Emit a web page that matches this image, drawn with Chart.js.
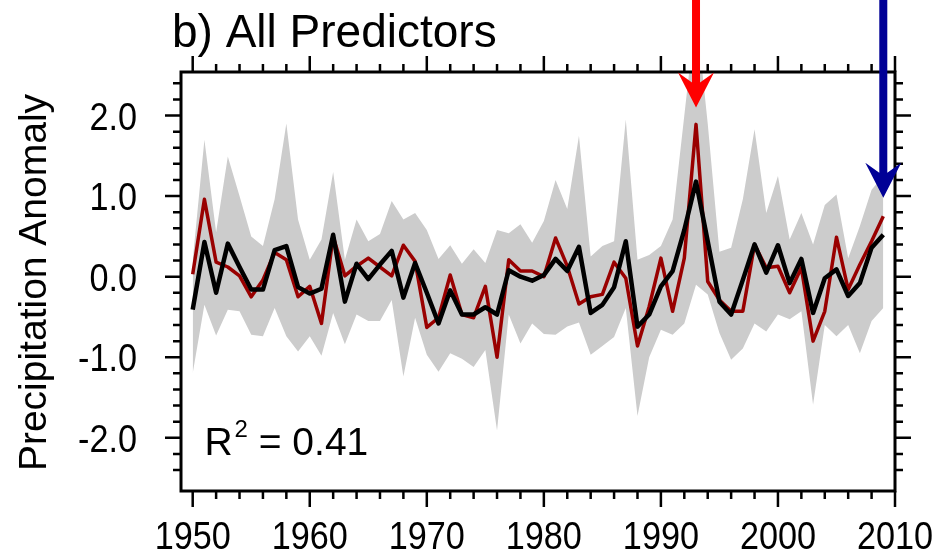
<!DOCTYPE html>
<html>
<head>
<meta charset="utf-8">
<title>b) All Predictors</title>
<script src="https://cdn.jsdelivr.net/npm/chart.js"></script>
<style>
  html, body { margin: 0; padding: 0; background: #fff; }
  #wrap { width: 940px; height: 556px; }
</style>
</head>
<body>
<div id="wrap"><canvas id="chart" width="940" height="556"></canvas></div>
<script>
// years on the x axis
const years = [
  1950, 1951, 1952, 1953, 1954, 1955, 1956, 1957, 1958, 1959,
  1960, 1961, 1962, 1963, 1964, 1965, 1966, 1967, 1968, 1969,
  1970, 1971, 1972, 1973, 1974, 1975, 1976, 1977, 1978, 1979,
  1980, 1981, 1982, 1983, 1984, 1985, 1986, 1987, 1988, 1989,
  1990, 1991, 1992, 1993, 1994, 1995, 1996, 1997, 1998, 1999,
  2000, 2001, 2002, 2003, 2004, 2005, 2006, 2007, 2008, 2009
];

// dark red line (observed)
const observed = [
  0.03, 0.96, 0.18, 0.12, 0.01, -0.25, -0.04, 0.30, 0.21, -0.25,
  -0.12, -0.58, 0.50, 0.01, 0.13, 0.23, 0.12, 0.01, 0.39, 0.19,
  -0.63, -0.51, 0.02, -0.47, -0.51, -0.12, -1.00, 0.21, 0.07, 0.07,
  0.00, 0.48, 0.13, -0.34, -0.25, -0.22, 0.18, -0.02, -0.86, -0.37,
  0.23, -0.43, 0.23, 1.89, -0.06, -0.29, -0.43, -0.43, 0.40, 0.11,
  0.13, -0.20, 0.11, -0.80, -0.43, 0.49, -0.16, 0.15, 0.44, 0.75
];

// black line (all predictors)
const predicted = [
  -0.41, 0.43, -0.20, 0.41, 0.12, -0.16, -0.16, 0.33, 0.38, -0.13,
  -0.21, -0.15, 0.52, -0.31, 0.16, -0.03, 0.15, 0.32, -0.26, 0.17,
  -0.20, -0.58, -0.17, -0.47, -0.47, -0.38, -0.47, 0.08, 0.00, -0.05,
  0.02, 0.22, 0.07, 0.37, -0.45, -0.35, -0.13, 0.44, -0.62, -0.47,
  -0.12, 0.07, 0.58, 1.18, 0.44, -0.31, -0.47, -0.04, 0.40, 0.05,
  0.39, -0.08, 0.22, -0.45, -0.02, 0.09, -0.24, -0.08, 0.36, 0.52
];

// grey spread, top edge
const upperBound = [
  0.20, 1.70, 0.55, 1.49, 1.00, 0.50, 0.38, 0.96, 1.90, 0.71,
  0.21, 0.46, 1.30, 0.21, 0.71, 0.44, 0.53, 0.94, 0.71, 0.79,
  0.58, 0.22, 0.39, 0.16, 0.34, 0.17, 0.58, 0.54, 0.65, 0.42,
  0.69, 1.20, 0.84, 1.75, 0.25, 0.38, 0.44, 1.95, 0.21, 0.27,
  0.38, 0.71, 2.00, 3.30, 1.90, 0.31, 0.36, 0.96, 1.83, 0.79,
  1.25, 0.46, 0.79, 0.40, 0.89, 1.02, 0.23, 0.63, 1.08, 1.25
];

// grey spread, bottom edge
const lowerBound = [
  -1.20, -0.35, -0.73, -0.41, -0.43, -0.72, -0.74, -0.39, -0.74, -0.93,
  -0.74, -0.98, -0.45, -0.84, -0.47, -0.55, -0.55, -0.29, -1.24, -0.51,
  -0.97, -1.18, -0.95, -1.02, -1.12, -0.91, -1.91, -0.47, -0.83, -0.58,
  -0.71, -0.72, -0.62, -0.57, -0.97, -0.86, -0.75, -0.39, -1.73, -1.00,
  -0.66, -0.72, -0.58, -0.10, -0.22, -0.70, -1.03, -0.89, -0.58, -0.68,
  -0.47, -0.53, -0.43, -1.59, -0.60, -0.74, -0.60, -0.95, -0.55, -0.39
];

// tick labels
const xTickValues = [1950, 1960, 1970, 1980, 1990, 2000, 2010];
const xTickLabels = ['1950', '1960', '1970', '1980', '1990', '2000', '2010'];
const yTickValues = [-2, -1, 0, 1, 2];
const yTickLabels = ['-2.0', '-1.0', '0.0', '1.0', '2.0'];

// arrows marking years (tip value on the y axis)
const arrowYears = [1993, 2009];
const arrowTips = [2.1, 0.98];
const arrowColors = ['#ff0000', '#000096'];

const FONT = '"Liberation Sans", Arial, Helvetica, sans-serif';

function pts(vals) {
  return years.map((yr, i) => ({ x: yr, y: vals[i] }));
}

// frame, outward ticks, labels, title and arrows
const decorPlugin = {
  id: 'decor',
  afterDraw(chart) {
    const ctx = chart.ctx;
    const area = chart.chartArea;
    const xs = chart.scales.x;
    const ys = chart.scales.y;

    ctx.save();
    ctx.strokeStyle = '#000';
    ctx.lineCap = 'butt';

    // x ticks: major every 10, minor every 2 (bottom and top, outward)
    ctx.lineWidth = 2.5;
    for (let yr = 1950; yr <= 2010; yr += 2) {
      const px = xs.getPixelForValue(yr);
      const len = yr % 10 === 0 ? 16 : 8;
      ctx.beginPath();
      ctx.moveTo(px, area.bottom); ctx.lineTo(px, area.bottom + len);
      ctx.moveTo(px, area.top); ctx.lineTo(px, area.top - len);
      ctx.stroke();
    }
    // y ticks: major every 1, minor every 0.2 (left and right, outward)
    for (let k = -12; k <= 12; k++) {
      const v = k / 5;
      const py = ys.getPixelForValue(v);
      const len = k % 5 === 0 ? 16 : 8;
      ctx.beginPath();
      ctx.moveTo(area.left, py); ctx.lineTo(area.left - len, py);
      ctx.moveTo(area.right, py); ctx.lineTo(area.right + len, py);
      ctx.stroke();
    }

    // frame
    ctx.lineWidth = 3;
    ctx.strokeRect(area.left, area.top, area.right - area.left, area.bottom - area.top);

    // tick labels
    ctx.fillStyle = '#000';
    ctx.font = '38px ' + FONT;
    ctx.textBaseline = 'alphabetic';
    ctx.textAlign = 'center';
    xTickValues.forEach((v, i) => {
      ctx.save();
      ctx.translate(xs.getPixelForValue(v), area.bottom + 58);
      ctx.scale(0.9, 1);
      ctx.fillText(xTickLabels[i], 0, 0);
      ctx.restore();
    });
    ctx.textAlign = 'right';
    yTickValues.forEach((v, i) => {
      ctx.save();
      ctx.translate(area.left - 44, ys.getPixelForValue(v) + 14);
      ctx.scale(0.9, 1);
      ctx.fillText(yTickLabels[i], 0, 0);
      ctx.restore();
    });

    // axis title
    ctx.save();
    ctx.font = '39px ' + FONT;
    ctx.textAlign = 'center';
    ctx.translate(46, (area.top + area.bottom) / 2 + 1);
    ctx.rotate(-Math.PI / 2);
    ctx.fillText('Precipitation Anomaly', 0, 0);
    ctx.restore();

    // panel title
    ctx.font = '46px ' + FONT;
    ctx.textAlign = 'left';
    ctx.fillText('b) All Predictors', area.left - 9, 47);

    // R^2 annotation
    const rx = xs.getPixelForValue(1951.0);
    const ry = ys.getPixelForValue(-2.21);
    ctx.font = '39px ' + FONT;
    ctx.fillText('R', rx, ry);
    let off = ctx.measureText('R').width + 2;
    ctx.font = '24px ' + FONT;
    ctx.fillText('2', rx + off, ry - 18);
    off += ctx.measureText('2').width;
    ctx.font = '39px ' + FONT;
    ctx.fillText(' = 0.41', rx + off, ry);

    // arrows
    arrowYears.forEach((yr, i) => {
      const ax = xs.getPixelForValue(yr);
      const tip = ys.getPixelForValue(arrowTips[i]);
      const headLen = 35, half = 18, notch = 25, shaft = 4;
      ctx.fillStyle = arrowColors[i];
      ctx.beginPath();
      ctx.moveTo(ax - shaft, 0);
      ctx.lineTo(ax - shaft, tip - notch);
      ctx.lineTo(ax - half, tip - headLen);
      ctx.lineTo(ax, tip);
      ctx.lineTo(ax + half, tip - headLen);
      ctx.lineTo(ax + shaft, tip - notch);
      ctx.lineTo(ax + shaft, 0);
      ctx.closePath();
      ctx.fill();
    });

    ctx.restore();
  }
};

const ctx = document.getElementById('chart').getContext('2d');
new Chart(ctx, {
  type: 'line',
  data: {
    datasets: [
      {
        label: 'All Predictors',
        data: pts(predicted),
        borderColor: '#000000',
        borderWidth: 4.5,
        pointRadius: 0,
        tension: 0,
        fill: false,
        borderJoinStyle: 'round',
        order: 1
      },
      {
        label: 'Observed',
        data: pts(observed),
        borderColor: '#990000',
        borderWidth: 3.5,
        pointRadius: 0,
        tension: 0,
        fill: false,
        borderJoinStyle: 'round',
        order: 2
      },
      {
        label: 'Upper',
        data: pts(upperBound),
        borderWidth: 0,
        borderColor: 'rgba(0,0,0,0)',
        backgroundColor: '#cccccc',
        pointRadius: 0,
        tension: 0,
        fill: '+1',
        order: 3
      },
      {
        label: 'Lower',
        data: pts(lowerBound),
        borderWidth: 0,
        borderColor: 'rgba(0,0,0,0)',
        pointRadius: 0,
        tension: 0,
        fill: false,
        order: 4
      }
    ]
  },
  options: {
    responsive: false,
    animation: false,
    devicePixelRatio: 1,
    layout: { padding: { left: 181, right: 45, top: 72, bottom: 65 } },
    plugins: {
      legend: { display: false },
      tooltip: { enabled: false }
    },
    scales: {
      x: { type: 'linear', min: 1949, max: 2010, display: false },
      y: { type: 'linear', min: -2.66, max: 2.54, display: false }
    }
  },
  plugins: [decorPlugin]
});
</script>
</body>
</html>
